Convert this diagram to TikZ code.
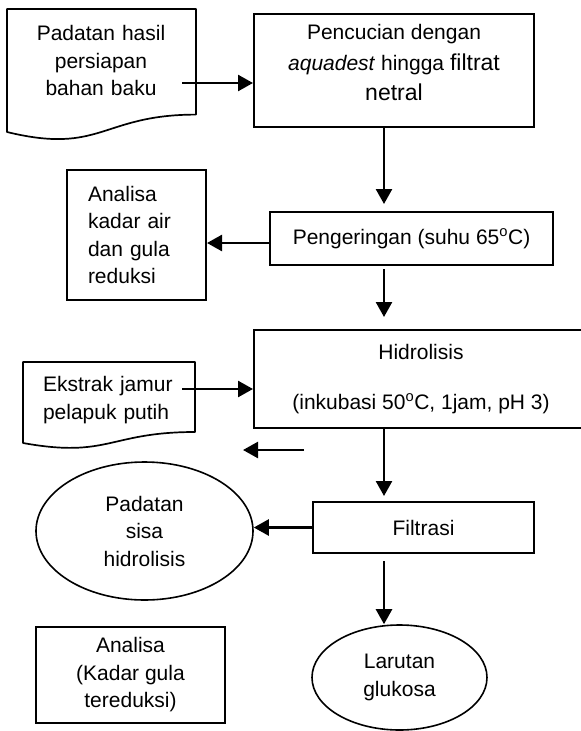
\documentclass[tikz,border=0pt]{standalone}
\usepackage{fontspec}
\setmainfont{Liberation Sans}
\usetikzlibrary{arrows.meta, shapes.geometric}

\begin{document}
\begin{tikzpicture}[x=1pt, y=-1pt, font=\fontsize{21}{27.5}\selectfont]
		\tikzset{box/.style = {shape=rectangle, draw, line width=2pt, align=center, inner sep=0pt}}
		\tikzset{blob/.style = {shape=ellipse, draw, line width=1.6pt, align=center, inner sep=0pt}}
		\tikzset{paper/.style = {line width=1.7pt, line join=round}}
		\tikzset{edge/.style = {-{Triangle[length=15pt,width=16pt]}, line width=2.5pt}}

		\useasboundingbox (0,0) rectangle (581,731);

		\coordinate (axis) at (384,0);
		\coordinate (rowA) at (0,83);
		\coordinate (rowB) at (0,243);
		\coordinate (rowD) at (0,389);
		\coordinate (tail) at (304,450);
		\coordinate (head) at (243,450);

		% documents
		\draw[paper] (7,9) -- (196,9) -- (196,114.6) .. controls (101.5,114.6) and (101.5,155) .. (7,132) -- cycle;
		\draw[paper] (23,362) -- (195,362) -- (195,432) .. controls (109,432) and (109,458.5) .. (23,443) -- cycle;

		\node[align=center, text width=155pt] (D_1) at (101,60.5) {Padatan hasil\\persiapan\\bahan baku};
		\node[align=left, text width=135.7pt] (D_2) at (110.85,400) {Ekstrak jamur\\pelapuk putih};

		% steps
		\node[box, minimum width=280pt, minimum height=113pt, text depth=16pt, font=\fontsize{21}{30.5}\selectfont] (S_1) at (394,70.5) {Pencucian dengan\\\textit{aquadest} hingga {\fontsize{23}{29}\selectfont filtrat}\\{\fontsize{23}{29}\selectfont netral}};
		\node[box, minimum width=283pt, minimum height=53pt] (S_2) at (411.5,238.5) {Pengeringan (suhu 65\textsuperscript{o}C)};
		\node[box, minimum width=334pt, minimum height=98pt] (S_3) at (421,379) {Hidrolisis\\[22pt](inkubasi 50\textsuperscript{o}C, 1jam, pH 3)};
		\node[box, minimum width=221pt, minimum height=51pt] (S_4) at (423.5,527.5) {Filtrasi};

		\node[box, align=left, text width=97pt, inner xsep=21pt, minimum width=139pt, minimum height=130pt] (A_1) at (136.5,235) {Analisa\\kadar air\\dan gula\\reduksi};
		\node[box, minimum width=189pt, minimum height=96pt] (A_2) at (130.5,675) {Analisa\\(Kadar gula\\tereduksi)};

		\node[blob, minimum width=217pt, minimum height=138pt] (E_1) at (144.5,531) {Padatan\\sisa\\hidrolisis};
		\node[blob, minimum width=175pt, minimum height=105pt] (E_2) at (399.5,677.5) {Larutan\\glukosa};

		\draw[edge] (D_1.east |- rowA) -- (S_1.west |- rowA);
		\draw[edge, shorten >=7pt] (S_1.south -| axis) -- (S_2.north -| axis);
		\draw[edge] (S_2.west |- rowB) -- (A_1.east |- rowB);
		\draw[edge, shorten <=3pt, shorten >=12pt] (S_2.south -| axis) -- (S_3.north -| axis);
		\draw[edge] (D_2.east |- rowD) -- (S_3.west |- rowD);
		\draw[edge] (tail) -- (head);
		\draw[edge, shorten >=5pt] (S_3.south -| axis) -- (S_4.north -| axis);
		\draw[edge] (S_4.west) -- (E_1.east |- S_4.west);
		\draw[edge, shorten <=7pt] (S_4.south -| axis) -- (E_2.north -| axis);

	\end{tikzpicture}
\end{document}
